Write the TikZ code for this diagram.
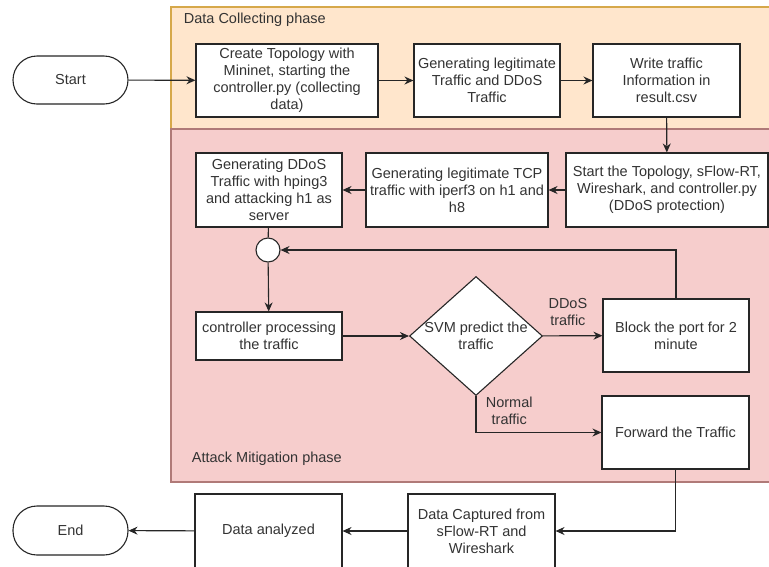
\documentclass[tikz,border=0pt]{standalone}
\usepackage{fontspec}
\setmainfont{Liberation Sans}
\usetikzlibrary{arrows.meta,shapes.geometric}
\definecolor{collectfill}{HTML}{FFE6CC}
\definecolor{collectline}{HTML}{D6A84A}
\definecolor{mitigfill}{HTML}{F6CDCC}
\definecolor{mitigline}{HTML}{B07A78}
\definecolor{txt}{HTML}{333333}
\begin{document}
\begin{tikzpicture}[x=1pt,y=-1pt,
  font=\fontsize{14.5}{17}\selectfont, text=txt,
  every path/.style={line width=1.1pt},
  box/.style={draw=black!85,fill=white,align=center,minimum width=#1,minimum height=73pt,inner sep=2pt},
  box/.default=146pt,
  term/.style={draw=black!85,fill=white,rounded corners=24pt,minimum width=115pt,minimum height=48pt},
  dec/.style={diamond,draw=black!85,fill=white,minimum width=133pt,minimum height=119pt,inner sep=0pt},
  joint/.style={circle,draw=black!85,fill=white,minimum size=24pt,inner sep=0pt},
  flow/.style={draw=black!85,-{Stealth[length=9pt,width=8pt]}}]
\useasboundingbox (0,0) rectangle (769,566);
\filldraw[fill=collectfill,draw=collectline] (171,7) rectangle (790,129);
\filldraw[fill=mitigfill,draw=mitigline] (171,129) rectangle (790,482);
\node[anchor=west] (collect) at (180,20) {Data Collecting phase};
\node[anchor=west] (mitig) at (188,459) {Attack Mitigation phase};
\node[term] (start) at (70.5,80) {Start};
\node[box=182pt] (topo) at (287,80.5) {Create Topology with\\Mininet, starting the\\controller.py (collecting\\data)};
\node[box] (gen) at (487,80.5) {Generating legitimate\\Traffic and DDoS\\Traffic};
\node[box=147pt] (write) at (666.5,80.5) {Write traffic\\Information in\\result.csv};
\node[box=202pt,minimum height=74pt] (run) at (667,190) {Start the Topology, sFlow-RT,\\Wireshark, and controller.py\\(DDoS protection)};
\node[box=182pt,minimum height=74pt] (tcp) at (457,190) {Generating legitimate TCP\\traffic with iperf3 on h1 and\\h8};
\node[box,minimum height=74pt] (hping) at (269,190) {Generating DDoS\\Traffic with hping3\\and attacking h1 as\\server};
\node[joint] (merge) at (268,250) {};
\node[box,minimum height=48pt] (proc) at (269,336) {controller processing\\the traffic};
\node[dec] (svm) at (476,336) {};
\node[align=center] (svmtext) at (svm) {SVM predict the\\traffic};
\node[box] (block) at (676,335.5) {Block the port for 2\\minute};
\node[box=147pt] (fwd) at (675.5,432.5) {Forward the Traffic};
\node[box=147pt,minimum height=74pt] (capt) at (481.5,531) {Data Captured from\\sFlow-RT and\\Wireshark};
\node[box=147pt,minimum height=74pt] (anal) at (268.5,531) {Data analyzed};
\node[term,minimum height=49pt] (end) at (70.5,530.5) {End};
\draw[flow] (start) -- (topo);
\draw[flow] (topo) -- (gen);
\draw[flow] (gen) -- (write);
\draw[flow] (write) -- (run);
\draw[flow] (run) -- (tcp);
\draw[flow] (tcp) -- (hping);
\draw[draw=black!85] (hping) -- (merge);
\draw[flow] (merge) -- (proc);
\draw[flow] (proc) -- (svm);
\draw[flow] (svm) -- node[above,align=center,pos=0.42,yshift=6pt]{DDoS\\traffic} (block);
\draw[flow] (block.north) |- (merge.east);
\draw[flow] (svm.south) |- node[right,align=center,pos=0.2,xshift=6pt]{Normal\\traffic} (fwd.west);
\draw[flow] (fwd.south) |- (capt.east);
\draw[flow] (capt) -- (anal);
\draw[flow] (anal) -- (end);
\end{tikzpicture}
\end{document}
